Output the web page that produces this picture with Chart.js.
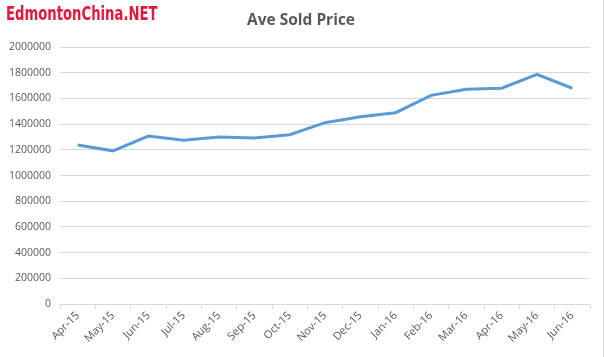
<!DOCTYPE html>
<html>
<head>
<meta charset="utf-8">
<script src="https://cdn.jsdelivr.net/npm/chart.js@4/dist/chart.umd.min.js"></script>
<style>
  html,body{margin:0;padding:0;background:#fff;}
  #wrap{position:relative;width:605px;height:357px;overflow:hidden;}
  #logo{position:absolute;left:6px;top:1px;font-family:'DejaVu Sans','Liberation Sans',sans-serif;font-weight:bold;font-size:20px;color:#e2183c;transform:scaleX(0.66);transform-origin:0 0;white-space:nowrap;}
  #title{position:absolute;left:201px;width:200px;top:8px;text-align:center;font-family:'Open Sans','Liberation Sans',sans-serif;font-weight:bold;font-size:15.5px;color:#595959;}
  #edge{position:absolute;left:603px;top:0;width:1px;height:357px;background:#d9d9d9;}
  canvas{position:absolute;left:0;top:0;}
</style>
</head>
<body>
<div id="wrap">
<canvas id="c" width="605" height="357"></canvas>
<div id="logo">EdmontonChina.NET</div>
<div id="title">Ave Sold Price</div>
<div id="edge"></div>
</div>
<script>
const categories = ['Apr-15','May-15','Jun-15','Jul-15','Aug-15','Sep-15','Oct-15','Nov-15','Dec-15','Jan-16','Feb-16','Mar-16','Apr-16','May-16','Jun-16'];
const avePrice = [1238000,1192000,1307000,1275000,1300000,1292000,1318000,1411000,1458000,1489000,1624000,1671000,1679000,1788000,1679000];
const yTicks = [0,200000,400000,600000,800000,1000000,1200000,1400000,1600000,1800000,2000000];

new Chart(document.getElementById('c'), {
  type: 'line',
  data: {
    labels: categories,
    datasets: [{
      label: 'Ave Sold Price',
      data: avePrice,
      borderColor: '#5b9bd5',
      borderWidth: 3,
      pointRadius: 0,
      tension: 0,
      fill: false
    }]
  },
  options: {
    responsive: false,
    animation: false,
    layout: { padding: { left: 0, right: 15, top: 47, bottom: 12 } },
    plugins: {
      legend: { display: false },
      tooltip: { enabled: false },
      title: { display: false }
    },
    scales: {
      x: {
        offset: true,
        grid: { offset: true, drawOnChartArea: false, drawTicks: true, tickLength: 5, color: '#d9d9d9' },
        border: { color: '#d9d9d9' },
        ticks: { color: '#595959', font: { family: "'Open Sans', 'Liberation Sans', sans-serif", size: 11 }, maxRotation: 45, minRotation: 45, padding: 0 }
      },
      y: {
        min: 0, max: 2000000,
        afterBuildTicks: (s) => { s.ticks = yTicks.map(v => ({ value: v })); },
        grid: { color: '#d9d9d9', drawTicks: false },
        border: { display: false },
        ticks: { color: '#595959', font: { family: "'Open Sans', 'Liberation Sans', sans-serif", size: 10.5 }, padding: 9, callback: v => String(v) }
      }
    }
  }
});
</script>
</body>
</html>
